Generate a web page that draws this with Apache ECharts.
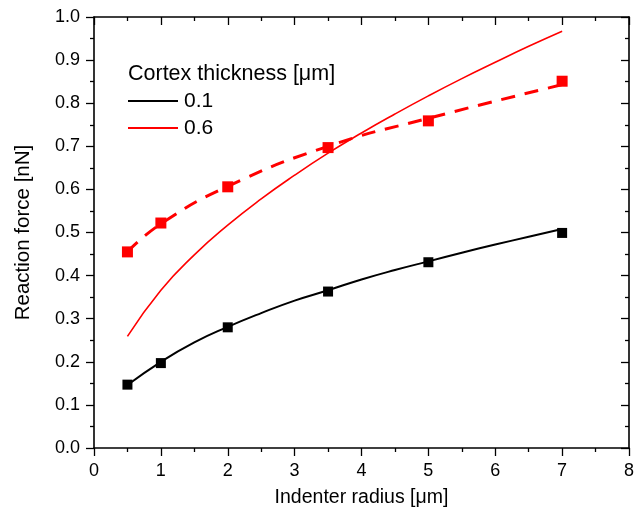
<!DOCTYPE html>
<html>
<head>
<meta charset="utf-8">
<script src="https://cdn.jsdelivr.net/npm/echarts@6/dist/echarts.min.js"></script>
<style>
  html, body { margin: 0; padding: 0; background: #fff; }
  #chart { width: 641px; height: 517px; }
</style>
</head>
<body>
<div id="chart"></div>
<script>
// Measured indenter radii [µm] and reaction forces [nN]
const radius = [0.5, 1, 2, 3.5, 5, 7];
const force01 = [0.147, 0.197, 0.280, 0.363, 0.431, 0.499];
const force06 = [0.455, 0.522, 0.606, 0.697, 0.759, 0.851];

// Trend through the 0.6 µm measurements (dashed)
const trend06 = [0.455, 0.520, 0.607, 0.700, 0.765, 0.843];

// Model curves sampled along the radius range
const curveRadius = [0.5, 1, 1.5, 2, 2.5, 3, 3.5, 4, 4.5, 5, 5.5, 6, 6.5, 7];
const curve01 = [0.146, 0.200, 0.245, 0.281, 0.313, 0.342, 0.366, 0.391, 0.413, 0.433, 0.453, 0.472, 0.490, 0.508];
const curve06 = [0.259, 0.366, 0.448, 0.517, 0.578, 0.633, 0.684, 0.731, 0.775, 0.817, 0.857, 0.895, 0.932, 0.967];

const xTicks = [0, 1, 2, 3, 4, 5, 6, 7, 8];
const yTicks = [0, 0.1, 0.2, 0.3, 0.4, 0.5, 0.6, 0.7, 0.8, 0.9, 1.0];

const FONT = 'Liberation Sans, Arial, sans-serif';
const zip = (xs, ys) => xs.map((x, i) => [x, ys[i]]);

const chart = echarts.init(document.getElementById('chart'), null, { renderer: 'canvas' });

const tickStyle = { color: '#000', width: 1.3 };
const axisBase = {
  type: 'value',
  axisLine: { show: true, onZero: false, lineStyle: { color: '#000', width: 1.6 } },
  splitLine: { show: false },
  minorTick: { show: true, splitNumber: 2, length: 4, lineStyle: tickStyle },
  axisTick: { show: true, length: 8, lineStyle: tickStyle }
};
const mirrorTicks = {
  axisTick: { show: true, inside: true, length: 8, lineStyle: tickStyle },
  minorTick: { show: true, splitNumber: 2, length: 4, lineStyle: tickStyle },
  axisLabel: { show: false }
};

const option = {
  backgroundColor: '#fff',
  animation: false,
  title: {
    text: 'Cortex thickness [\u03bcm]',
    left: 128,
    top: 63,
    padding: 0,
    textStyle: { fontFamily: FONT, fontSize: 21.5, fontWeight: 'normal', color: '#000' }
  },
  legend: {
    orient: 'vertical',
    left: 128,
    top: 90,
    padding: 0,
    icon: 'rect',
    itemWidth: 50,
    itemHeight: 2,
    itemGap: 5,
    data: ['0.1', '0.6'],
    textStyle: { fontFamily: FONT, fontSize: 21, color: '#000', lineHeight: 22, height: 22, padding: [0, 0, 0, 1] }
  },
  grid: { left: 94, right: 12, top: 17, bottom: 69, containLabel: false },
  xAxis: [
    Object.assign({}, axisBase, {
      position: 'bottom',
      min: xTicks[0], max: xTicks[xTicks.length - 1], interval: 1,
      name: 'Indenter radius [\u03bcm]',
      nameLocation: 'middle',
      nameGap: 40,
      nameTextStyle: { fontFamily: FONT, fontSize: 19.5, color: '#000' },
      axisLabel: { fontFamily: FONT, fontSize: 18, color: '#000', margin: 14 }
    }),
    Object.assign({}, axisBase, mirrorTicks, {
      position: 'top',
      min: xTicks[0], max: xTicks[xTicks.length - 1], interval: 1
    })
  ],
  yAxis: [
    Object.assign({}, axisBase, {
      position: 'left',
      min: yTicks[0], max: yTicks[yTicks.length - 1], interval: 0.1,
      name: 'Reaction force [nN]',
      nameLocation: 'middle',
      nameGap: 60,
      nameTextStyle: { fontFamily: FONT, fontSize: 20.5, color: '#000' },
      axisLabel: { fontFamily: FONT, fontSize: 18, color: '#000', margin: 14,
        formatter: v => v.toFixed(1) }
    }),
    Object.assign({}, axisBase, mirrorTicks, {
      position: 'right',
      min: yTicks[0], max: yTicks[yTicks.length - 1], interval: 0.1
    })
  ],
  series: [
    {
      name: '0.1', type: 'line', smooth: true, showSymbol: false, symbol: 'none',
      data: zip(curveRadius, curve01),
      lineStyle: { color: '#000', width: 2 }, itemStyle: { color: '#000' }, z: 3
    },
    {
      name: '0.6', type: 'line', smooth: true, showSymbol: false, symbol: 'none',
      data: zip(curveRadius, curve06),
      lineStyle: { color: '#ff0000', width: 1.6 }, itemStyle: { color: '#ff0000' }, z: 3
    },
    {
      name: 'trend06', type: 'line', smooth: true, showSymbol: false, symbol: 'none',
      data: zip(radius, trend06),
      lineStyle: { color: '#ff0000', width: 3, type: [14, 10] }, z: 3
    },
    {
      name: 'meas01', type: 'scatter', symbol: 'rect', symbolSize: 10,
      data: zip(radius, force01), itemStyle: { color: '#000', opacity: 1 }, z: 4
    },
    {
      name: 'meas06', type: 'scatter', symbol: 'rect', symbolSize: 11,
      data: zip(radius, force06), itemStyle: { color: '#ff0000', opacity: 1 }, z: 4
    }
  ]
};

chart.setOption(option);
</script>
</body>
</html>
